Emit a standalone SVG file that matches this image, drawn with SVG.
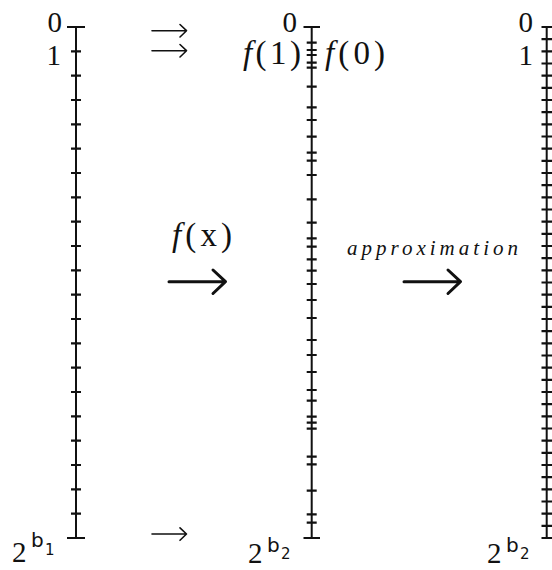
<svg xmlns="http://www.w3.org/2000/svg" width="552" height="570" viewBox="0 0 552 570">
<style>
.ax{stroke:#111;stroke-width:2;fill:none}
.tk{stroke:#111;stroke-width:2.2;fill:none}
.t{font-family:"Liberation Serif",serif;fill:#111}
.lb{font-size:29px}
.fn{font-size:33px}
.it{font-style:italic}
.sup{font-size:20px;font-family:"DejaVu Sans",sans-serif}
.sub{font-size:15px;font-family:"DejaVu Sans",sans-serif}
.thin{stroke:#111;stroke-width:1.6;fill:none;stroke-linecap:round;stroke-linejoin:round}
.thick{stroke:#111;stroke-width:3;fill:none;stroke-linecap:round;stroke-linejoin:round}
</style>
<rect width="552" height="570" fill="#fff"/>
<g id="axis-left">
<path class="ax" d="M76 27V538M67 27H85M67 538H85"/>
<path class="tk" d="M71 51.33h10M71 75.67h10M71 100h10M71 124.33h10M71 148.67h10M71 173h10M71 197.33h10M71 221.67h10M71 246h10M71 270.33h10M71 294.67h10M71 319h10M71 343.33h10M71 367.67h10M71 392h10M71 416.33h10M71 440.67h10M71 465h10M71 489.33h10M71 513.67h10"/>
<text class="t lb" x="62" y="32" text-anchor="end">0</text>
<text class="t lb" x="61" y="65" text-anchor="end">1</text>
<text class="t lb" x="12" y="562">2</text>
<text class="t sup" x="31" y="547">b</text>
<text class="t sub" x="45" y="555">1</text>
</g>
<g id="axis-middle">
<path class="ax" d="M311.7 27V538M303.5 27H320M303.5 538H320"/>
<path class="tk" d="M306.7 42.7h10M306.7 50h10M306.7 55h10M306.7 62.7h10M306.7 67.7h10M306.7 86.7h10M306.7 107.3h10M306.7 120h10M306.7 136.7h10M306.7 152.7h10M306.7 160.7h10M306.7 175h10M306.7 199.3h10M306.7 222.7h10M306.7 238.3h10M306.7 246.7h10M306.7 259.3h10M306.7 270.7h10M306.7 284h10M306.7 300h10M306.7 318h10M306.7 340h10M306.7 355h10M306.7 372h10M306.7 390h10M306.7 400.7h10M306.7 416.7h10M306.7 422.7h10M306.7 428.7h10M306.7 456.7h10M306.7 464.3h10M306.7 490.7h10M306.7 514.3h10M306.7 522.7h10"/>
<text class="t lb" x="297" y="32" text-anchor="end">0</text>
<text class="t fn" x="243" y="64" textLength="58" lengthAdjust="spacing"><tspan class="it">f</tspan>(1)</text>
<text class="t fn" x="325" y="64" textLength="60" lengthAdjust="spacing"><tspan class="it">f</tspan>(0)</text>
<text class="t lb" x="248" y="563">2</text>
<text class="t sup" x="267" y="552">b</text>
<text class="t sub" x="281" y="559">2</text>
</g>
<g id="axis-right">
<path class="ax" d="M546.7 27V538M541.5 27H553M541.5 538H553"/>
<path class="tk" d="M541.5 39.17h11M541.5 51.33h11M541.5 63.5h11M541.5 75.67h11M541.5 87.83h11M541.5 100h11M541.5 112.17h11M541.5 124.33h11M541.5 136.5h11M541.5 148.67h11M541.5 160.83h11M541.5 173h11M541.5 185.17h11M541.5 197.33h11M541.5 209.5h11M541.5 221.67h11M541.5 233.83h11M541.5 246h11M541.5 258.17h11M541.5 270.33h11M541.5 282.5h11M541.5 294.67h11M541.5 306.83h11M541.5 319h11M541.5 331.17h11M541.5 343.33h11M541.5 355.5h11M541.5 367.67h11M541.5 379.83h11M541.5 392h11M541.5 404.17h11M541.5 416.33h11M541.5 428.5h11M541.5 440.67h11M541.5 452.83h11M541.5 465h11M541.5 477.17h11M541.5 489.33h11M541.5 501.5h11M541.5 513.67h11M541.5 525.83h11"/>
<text class="t lb" x="533" y="32" text-anchor="end">0</text>
<text class="t lb" x="533" y="65" text-anchor="end">1</text>
<text class="t lb" x="487" y="563">2</text>
<text class="t sup" x="506" y="552">b</text>
<text class="t sub" x="520" y="559">2</text>
</g>
<g id="connectors">
<path class="thin" d="M152 30.7H186M180 24.5L186.5 30.7L180 37"/>
<path class="thin" d="M152 50.7H186M180 44.5L186.5 50.7L180 57"/>
<path class="thin" d="M152 534H186M180 527.8L186.5 534L180 540.3"/>
<path class="thick" d="M169 281.7H225M213 270L225.5 281.7L213 293.5"/>
<text class="t fn" x="172" y="246" textLength="60" lengthAdjust="spacing"><tspan class="it">f</tspan>(x)</text>
<path class="thick" d="M404 281.7H460M448 270L460.5 281.7L448 293.5"/>
<text class="t it" x="347" y="255" font-size="21" textLength="171" lengthAdjust="spacing">approximation</text>
</g>
</svg>
